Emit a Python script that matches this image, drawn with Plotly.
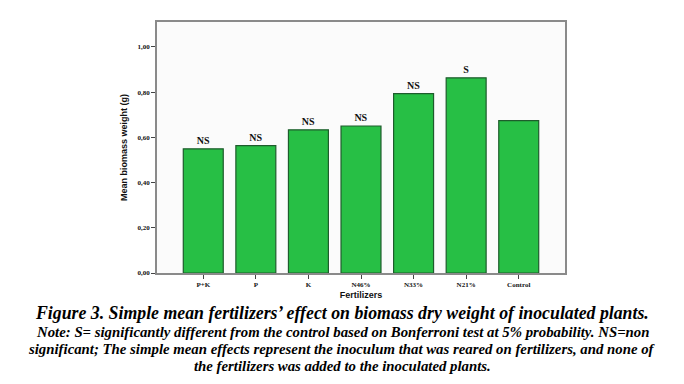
import plotly.graph_objects as go

categories = ["P+K", "P", "K", "N46%", "N33%", "N21%", "Control"]
values = [0.549, 0.563, 0.633, 0.650, 0.793, 0.863, 0.674]
sig_labels = ["NS", "NS", "NS", "NS", "NS", "S", ""]
y_ticks = [0.0, 0.2, 0.4, 0.6, 0.8, 1.0]
y_tick_text = ["0,00", "0,20", "0,40", "0,60", "0,80", "1,00"]

SERIF = "Liberation Serif, Times New Roman, serif"
SANS = "Liberation Sans, Arial, sans-serif"

fig = go.Figure()
fig.add_trace(go.Bar(
    x=categories, y=values, width=0.76,
    marker=dict(color="#27bf45", line=dict(color="#1e5c2c", width=1.2)),
    text=sig_labels, textposition="outside", cliponaxis=False, textangle=0,
    texttemplate="<b>%{text}</b>",
    textfont=dict(family=SERIF, size=10, color="#111111"),
))

fig.update_layout(
    width=684, height=384,
    margin=dict(l=149, r=127, t=14, b=119, autoexpand=False),
    paper_bgcolor="white", plot_bgcolor="#fbfbfb",
    showlegend=False,
)
fig.update_xaxes(
    range=[-0.88, 6.88], showline=True, linecolor="#8a8a8a", linewidth=1.5, mirror=True,
    ticks="outside", ticklen=4, tickcolor="#444", showgrid=False, automargin=False,
    tickvals=categories, ticktext=["<b>%s</b>" % c for c in categories],
    tickfont=dict(family=SERIF, size=7, color="#111"),
    title=dict(text="<b>Fertilizers</b>", font=dict(family=SANS, size=9, color="#111"), standoff=4),
)
fig.update_yaxes(
    range=[0, 1.11], showline=True, linecolor="#8a8a8a", linewidth=1.5, mirror=True,
    ticks="outside", ticklen=4, tickcolor="#444", showgrid=False, zeroline=False, automargin=False,
    tickvals=y_ticks, ticktext=["<b>%s</b>" % t for t in y_tick_text],
    tickfont=dict(family=SERIF, size=7, color="#111"),
    title=dict(text="<b>Mean biomass weight (g)</b>", font=dict(family=SANS, size=9, color="#111"), standoff=8),
)

cx = (342 - 157) / 408
fig.add_annotation(
    text="<b><i>Figure 3. Simple mean fertilizers’ effect on biomass dry weight of inoculated plants.</i></b>",
    xref="paper", yref="paper", x=cx, y=-(313 - 273) / 251, xanchor="center", yanchor="middle",
    showarrow=False, font=dict(family=SERIF, size=17.8, color="#000"),
)
notes = [
    "Note: S= significantly different from the control based on Bonferroni test at 5% probability. NS=non",
    "significant; The simple mean effects represent the inoculum that was reared on fertilizers, and none of",
    "the fertilizers was added to the inoculated plants.",
]
for line, yc in zip(notes, [332, 349, 366]):
    fig.add_annotation(
        text="<b><i>%s</i></b>" % line,
        xref="paper", yref="paper", x=cx, y=-(yc - 273) / 251, xanchor="center", yanchor="middle",
        showarrow=False, font=dict(family=SERIF, size=14.8, color="#000"),
    )

fig.write_html("out.html")
